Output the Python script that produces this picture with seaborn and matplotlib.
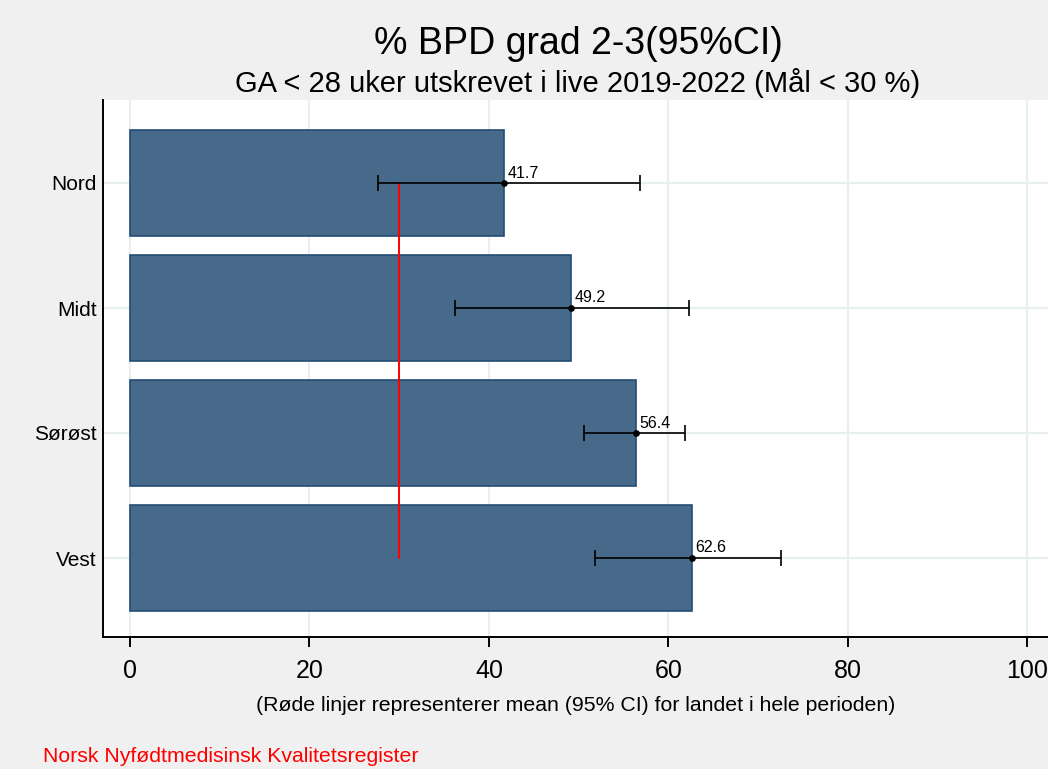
import matplotlib
matplotlib.use("Agg")
import matplotlib.pyplot as plt
import seaborn as sns
import pandas as pd

# Regional BPD grade 2-3 rates with 95% confidence intervals
regions = ["Nord", "Midt", "Sørøst", "Vest"]
rates = [41.7, 49.2, 56.4, 62.6]
ci_low = [27.6, 36.2, 50.6, 51.8]
ci_high = [56.8, 62.3, 61.9, 72.5]
national_mean = 30.0
x_ticks = [0, 20, 40, 60, 80, 100]

sns.set_theme(style="white")
plt.rcParams["font.family"] = ["Liberation Sans", "DejaVu Sans"]
plt.rcParams["text.color"] = "black"
plt.rcParams["axes.labelcolor"] = "black"
plt.rcParams["xtick.color"] = "black"
plt.rcParams["ytick.color"] = "black"

df = pd.DataFrame({"region": regions, "rate": rates,
                   "lo": ci_low, "hi": ci_high})

fig = plt.figure(figsize=(10.48, 7.69), dpi=100, facecolor="#f0f0f0")
ax = fig.add_axes([103 / 1048, 1 - 637 / 769, 1 - 103 / 1048, (637 - 100) / 769])
ax.set_facecolor("white")

# light grid behind the bars
for xv in x_ticks:
    ax.axvline(xv, color="#e8eff1", lw=1.6, zorder=0)
for i in range(len(regions)):
    ax.axhline(i, color="#e8eff1", lw=1.6, zorder=0)

sns.barplot(data=df, y="region", x="rate", orient="h", ax=ax,
            color="#486a8a", saturation=1, width=0.85,
            edgecolor="#234d74", linewidth=1.2, errorbar=None, zorder=2)

ypos = list(range(len(regions)))
ax.errorbar(df["rate"], ypos,
            xerr=[df["rate"] - df["lo"], df["hi"] - df["rate"]],
            fmt="o", color="black", ms=3.8, lw=1.2, capsize=6, capthick=1.2,
            zorder=4)
for y, v in zip(ypos, rates):
    ax.text(v + 0.4, y - 0.02, f"{v:.1f}", fontsize=11.5, ha="left", va="bottom",
            color="black", zorder=5)

ax.plot([national_mean, national_mean], [0, len(regions) - 1],
        color="#ff0000", lw=1.4, zorder=3)

ax.set_xlim(-3.0, 102.3)
ax.set_ylim(3.632, -0.664)
ax.set_xticks(x_ticks)
ax.set_xticklabels([str(t) for t in x_ticks], fontsize=18)
ax.set_yticks(ypos)
ax.set_yticklabels(regions, fontsize=15)
ax.tick_params(axis="x", direction="out", length=7.5, width=1.4,
               color="black", bottom=True, pad=8)
ax.tick_params(axis="y", left=False, length=0, pad=4.5)
ax.set_xlabel("(Røde linjer representerer mean (95% CI) for landet i hele perioden)",
              fontsize=15.3, labelpad=10)
ax.set_ylabel("")

for side in ["top", "right"]:
    ax.spines[side].set_visible(False)
for side in ["left", "bottom"]:
    ax.spines[side].set_color("black")
    ax.spines[side].set_linewidth(1.4)

fig.text(578 / 1048, 1 - 44 / 769, "% BPD grad 2-3(95%CI)", fontsize=27,
         ha="center", va="center")
fig.text(578 / 1048, 1 - 83 / 769,
         "GA < 28 uker utskrevet i live 2019-2022 (Mål < 30 %)",
         fontsize=21, ha="center", va="center")
fig.text(43 / 1048, 1 - 757 / 769, "Norsk Nyfødtmedisinsk Kvalitetsregister",
         fontsize=15.3, color="#ff0000", ha="left", va="center")

fig.savefig("out.png", dpi=100, facecolor=fig.get_facecolor())
